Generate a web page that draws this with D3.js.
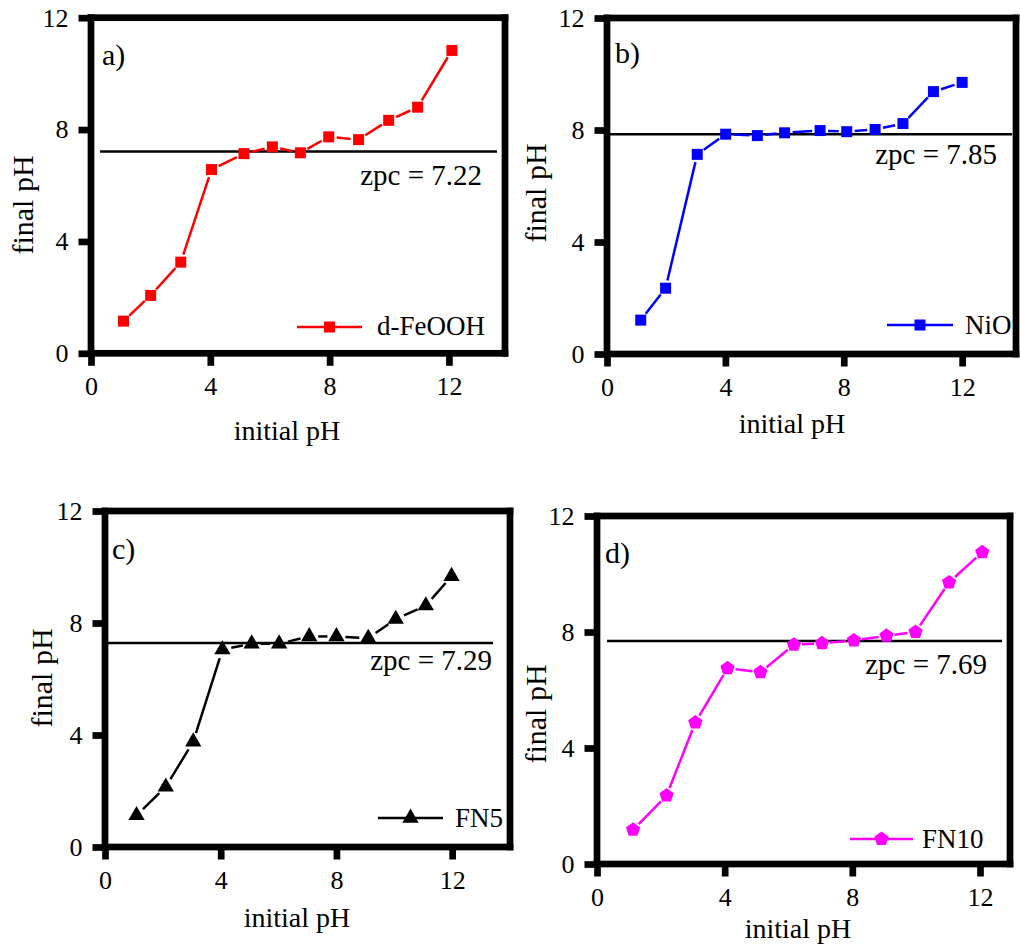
<!DOCTYPE html>
<html>
<head>
<meta charset="utf-8">
<script src="https://cdn.jsdelivr.net/npm/d3@7"></script>
<style>
body { margin: 0; background: #fff; }
</style>
</head>
<body>
<div id="vis-container"></div>
<script>

// values (initial pH -> final pH)
var feoohX = [1.09, 2.0, 3.01, 4.04, 5.13, 6.08, 7.02, 7.97, 8.97, 9.98, 10.95, 12.1];
var feoohY = [1.15, 2.07, 3.26, 6.57, 7.14, 7.38, 7.17, 7.74, 7.64, 8.33, 8.80, 10.83];
var nioX = [1.14, 1.98, 3.05, 4.01, 5.08, 6.0, 7.2, 8.1, 9.06, 10.0, 11.03, 12.0];
var nioY = [1.21, 2.35, 7.13, 7.85, 7.80, 7.90, 7.98, 7.94, 8.02, 8.23, 9.37, 9.70];
var fn5X = [1.09, 2.10, 3.05, 4.06, 5.07, 6.02, 7.06, 8.0, 9.1, 10.05, 11.09, 11.98];
var fn5Y = [1.13, 2.15, 3.76, 7.05, 7.26, 7.26, 7.52, 7.52, 7.46, 8.14, 8.62, 9.67];
var fn10X = [1.13, 2.18, 3.08, 4.09, 5.12, 6.17, 7.05, 8.05, 9.07, 9.98, 11.03, 12.07];
var fn10Y = [1.18, 2.36, 4.88, 6.75, 6.61, 7.56, 7.61, 7.71, 7.87, 8.0, 9.71, 10.75];

var zpcValues = [7.22, 7.85, 7.29, 7.69];
var seriesNames = ["d-FeOOH", "NiO", "FN5", "FN10"];
var panelLetters = ["a)", "b)", "c)", "d)"];
var axisTicks = [0, 4, 8, 12];

var svg = d3.select("#vis-container")
	.append("svg")
	.attr("width", 1020)
	.attr("height", 947)
	.style("background", "#fff")
	.style("font-family", "'Liberation Serif', 'Times New Roman', serif");

// pentagon marker (d3 has none)
var symbolPentagon = {
	draw: function (ctx, size) {
		var r = Math.sqrt(size / 2.378);
		for (var i = 0; i < 5; i++) {
			var a = -Math.PI / 2 + i * 2 * Math.PI / 5;
			if (i == 0) ctx.moveTo(r * Math.cos(a), r * Math.sin(a));
			else ctx.lineTo(r * Math.cos(a), r * Math.sin(a));
		}
		ctx.closePath();
	}
};

// layout of the four panels
var panels = [
	{ xs: feoohX, ys: feoohY, color: "#ff0000", symbol: d3.symbolSquare, size: 121, gap: 8,
	  left: 91, right: 505, top: 17.7, bottom: 353.3, xMax: 13.88,
	  letter: [102, 65], zpcLine: [100, 497], zpcText: [482, 185],
	  legend: { x1: 297, x2: 362, y: 327, tx: 377, ty: 335 },
	  xLabel: [287, 440], yLabel: [33, 205] },
	{ xs: nioX, ys: nioY, color: "#0000ff", symbol: d3.symbolSquare, size: 121, gap: 8,
	  left: 607, right: 1016, top: 18, bottom: 354, xMax: 13.82,
	  letter: [615, 63], zpcLine: [610, 1012], zpcText: [997, 164],
	  legend: { x1: 887, x2: 953, y: 325, tx: 965, ty: 334 },
	  xLabel: [792, 433], yLabel: [546, 193] },
	{ xs: fn5X, ys: fn5Y, color: "#000000", symbol: d3.symbolTriangle, size: 115, gap: 9,
	  left: 105, right: 510, top: 511, bottom: 847, xMax: 14.0,
	  letter: [112, 559], zpcLine: [107, 493], zpcText: [492, 670],
	  legend: { x1: 378, x2: 443, y: 818, tx: 455, ty: 827 },
	  xLabel: [297, 927], yLabel: [52, 678] },
	{ xs: fn10X, ys: fn10Y, color: "#ff00ff", symbol: symbolPentagon, size: 133, gap: 8,
	  left: 597, right: 1010, top: 516, bottom: 864, xMax: 12.94,
	  letter: [605, 563], zpcLine: [607, 1002], zpcText: [987, 674],
	  legend: { x1: 850, x2: 913, y: 839, tx: 922, ty: 848 },
	  xLabel: [798, 938], yLabel: [546, 714] }
];

var frameW = 6.7;   // frame / major tick thickness
var tickLen = 12.5;

function drawPanel(p, i) {
	var g = svg.append("g");
	var xScale = d3.scaleLinear().domain([0, p.xMax]).range([p.left, p.right]);
	var yScale = d3.scaleLinear().domain([0, 12]).range([p.bottom, p.top]);
	var h = frameW / 2;

	// thick frame, drawn as filled bars
	var bars = [
		[p.left - h, p.top - h, p.right - p.left + frameW, frameW],
		[p.left - h, p.bottom - h, p.right - p.left + frameW, frameW],
		[p.left - h, p.top - h, frameW, p.bottom - p.top + frameW],
		[p.right - h, p.top - h, frameW, p.bottom - p.top + frameW]
	];
	g.selectAll(".frame").data(bars).join("rect")
		.attr("class", "frame")
		.attr("x", function (d) { return d[0]; }).attr("y", function (d) { return d[1]; })
		.attr("width", function (d) { return d[2]; }).attr("height", function (d) { return d[3]; })
		.attr("fill", "#000");

	var yAxis = g.append("g")
		.attr("transform", "translate(" + p.left + ",0)")
		.call(d3.axisLeft(yScale).tickValues(axisTicks).tickSize(tickLen).tickPadding(10));
	var xAxis = g.append("g")
		.attr("transform", "translate(0," + p.bottom + ")")
		.call(d3.axisBottom(xScale).tickValues(axisTicks).tickSize(tickLen).tickPadding(11));
	[yAxis, xAxis].forEach(function (ax) {
		ax.attr("font-family", null).attr("font-size", null);
		ax.select(".domain").remove();
		ax.selectAll("line").remove();
		ax.selectAll("text").attr("fill", "#000").style("font-size", "26px");
	});
	// major ticks as filled bars on the axis tick groups
	yAxis.selectAll(".tick").append("rect")
		.attr("x", -tickLen).attr("y", -h).attr("width", tickLen).attr("height", frameW)
		.attr("fill", "#000");
	xAxis.selectAll(".tick").append("rect")
		.attr("x", -h).attr("y", 0).attr("width", frameW).attr("height", tickLen)
		.attr("fill", "#000");

	// zero point of charge line
	g.append("line")
		.attr("x1", p.zpcLine[0]).attr("x2", p.zpcLine[1])
		.attr("y1", yScale(zpcValues[i])).attr("y2", yScale(zpcValues[i]))
		.style("stroke", "#000").style("stroke-width", "2.5px");
	g.append("text")
		.attr("x", p.zpcText[0]).attr("y", p.zpcText[1])
		.style("text-anchor", "end").style("font-size", "29px")
		.text("zpc = " + zpcValues[i].toFixed(2));

	// series: segments with a gap to each symbol
	var pts = p.xs.map(function (v, k) { return [xScale(v), yScale(p.ys[k])]; });
	var segs = d3.pairs(pts).map(function (pr) {
		var dx = pr[1][0] - pr[0][0], dy = pr[1][1] - pr[0][1];
		var len = Math.sqrt(dx * dx + dy * dy);
		var ux = dx / len, uy = dy / len;
		return { x1: pr[0][0] + ux * p.gap, y1: pr[0][1] + uy * p.gap,
		         x2: pr[1][0] - ux * p.gap, y2: pr[1][1] - uy * p.gap, len: len };
	}).filter(function (s) { return s.len > 2 * p.gap + 1; });
	g.selectAll(".seg").data(segs).join("line")
		.attr("class", "seg")
		.attr("x1", function (d) { return d.x1; }).attr("y1", function (d) { return d.y1; })
		.attr("x2", function (d) { return d.x2; }).attr("y2", function (d) { return d.y2; })
		.style("stroke", p.color).style("stroke-width", "2.5px");
	g.selectAll(".pt").data(pts).join("path")
		.attr("class", "pt")
		.attr("transform", function (d) { return "translate(" + d[0] + "," + d[1] + ")"; })
		.attr("d", d3.symbol(p.symbol, p.size))
		.style("fill", p.color);

	// legend
	g.append("line")
		.attr("x1", p.legend.x1).attr("x2", p.legend.x2)
		.attr("y1", p.legend.y).attr("y2", p.legend.y)
		.style("stroke", p.color).style("stroke-width", "2.5px");
	g.append("path")
		.attr("transform", "translate(" + (p.legend.x1 + p.legend.x2) / 2 + "," + p.legend.y + ")")
		.attr("d", d3.symbol(p.symbol, p.size))
		.style("fill", p.color);
	g.append("text")
		.attr("x", p.legend.tx).attr("y", p.legend.ty)
		.style("font-size", "27px")
		.text(seriesNames[i]);

	// panel letter
	g.append("text")
		.attr("x", p.letter[0]).attr("y", p.letter[1])
		.style("font-size", "30px")
		.text(panelLetters[i]);

	// axis labels
	g.append("text")
		.attr("x", p.xLabel[0]).attr("y", p.xLabel[1])
		.style("text-anchor", "middle").style("font-size", "28px")
		.text("initial pH");
	g.append("text")
		.attr("transform", "translate(" + p.yLabel[0] + "," + p.yLabel[1] + ") rotate(-90)")
		.style("text-anchor", "middle").style("font-size", "30px")
		.text("final pH");
}

panels.forEach(drawPanel);
</script>
</body>
</html>
